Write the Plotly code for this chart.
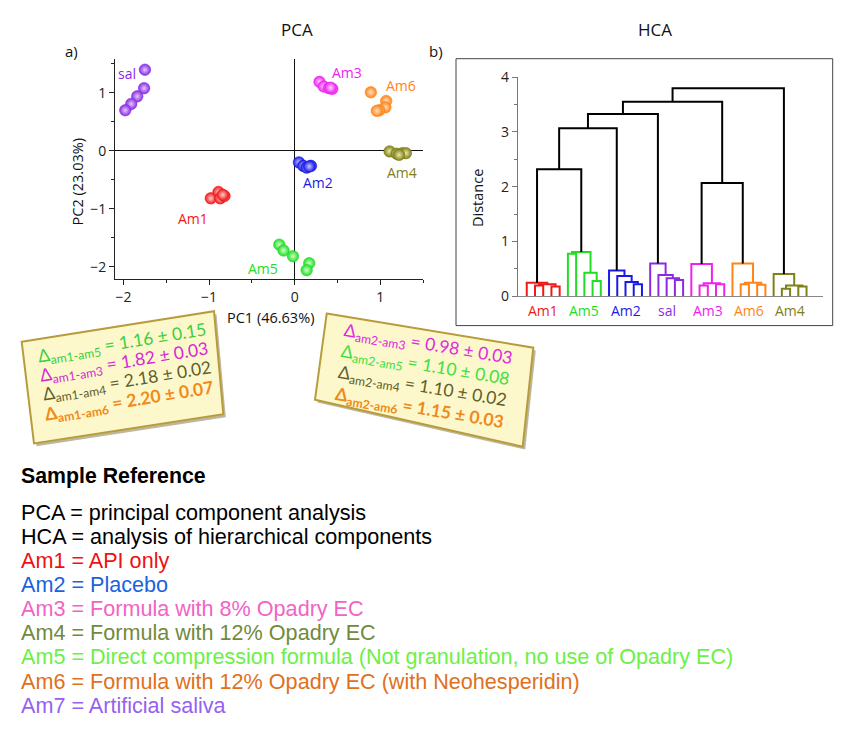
import plotly.graph_objects as go

W, H = 846, 732

# ---------------- PCA data (PC1, PC2 scores) ----------------
pca_groups = ["sal", "Am3", "Am6", "Am4", "Am2", "Am1", "Am5"]
sal_pc1 = [-1.75, -1.76, -1.84, -1.91, -1.98]
sal_pc2 = [1.40, 1.08, 0.94, 0.81, 0.70]
am3_pc1 = [0.29, 0.34, 0.40, 0.44, 0.42]
am3_pc2 = [1.19, 1.11, 1.08, 1.07, 1.09]
am6_pc1 = [0.89, 1.07, 1.06, 0.99, 0.96]
am6_pc2 = [1.01, 0.86, 0.75, 0.70, 0.69]
am4_pc1 = [1.11, 1.19, 1.26, 1.30, 1.22]
am4_pc2 = [-0.01, -0.05, -0.04, -0.04, -0.07]
am2_pc1 = [0.05, 0.10, 0.14, 0.19, 0.17]
am2_pc2 = [-0.20, -0.26, -0.29, -0.26, -0.27]
am1_pc1 = [-0.98, -0.89, -0.87, -0.82, -0.84]
am1_pc2 = [-0.82, -0.71, -0.82, -0.78, -0.76]
am5_pc1 = [-0.18, -0.13, -0.02, 0.17, 0.14]
am5_pc2 = [-1.62, -1.72, -1.82, -1.94, -2.06]
pca_label_x = [-1.96, 0.61, 1.24, 1.26, 0.27, -1.19, -0.37]
pca_label_y = [1.33, 1.35, 1.12, -0.37, -0.55, -1.16, -2.03]

# ---------------- HCA data ----------------
hca_order = ["Am1", "Am5", "Am2", "sal", "Am3", "Am6", "Am4"]
leaves_per_group = 5
merge_left = [1, 3, 35, 0, 8, 7, 5, 41, 13, 12, 11, 10, 18, 17, 16, 15,
              21, 23, 51, 20, 26, 28, 55, 25, 31, 33, 59, 30,
              38, 63, 64, 54, 65, 67]
merge_right = [2, 4, 36, 37, 9, 39, 6, 40, 14, 43, 44, 45, 19, 47, 48, 49,
               22, 24, 52, 53, 27, 29, 56, 57, 32, 34, 60, 61,
               42, 46, 50, 58, 66, 62]
merge_height = [0.20, 0.18, 0.22, 0.25, 0.28, 0.43, 0.78, 0.81,
                0.22, 0.26, 0.37, 0.47, 0.30, 0.33, 0.39, 0.60,
                0.20, 0.22, 0.24, 0.59, 0.22, 0.21, 0.25, 0.60,
                0.14, 0.18, 0.20, 0.41,
                2.32, 3.07, 3.33, 2.07, 3.55, 3.80]

# ---------------- Box texts ----------------
box1_lines = ["Δ<sub>am1-am5</sub> = 1.16 ± 0.15",
              "Δ<sub>am1-am3</sub> = 1.82 ± 0.03",
              "Δ<sub>am1-am4</sub> = 2.18 ± 0.02",
              "<b>Δ<sub>am1-am6</sub> = 2.20 ± 0.07</b>"]
box2_lines = ["Δ<sub>am2-am3</sub> = 0.98 ± 0.03",
              "Δ<sub>am2-am5</sub> = 1.10 ± 0.08",
              "Δ<sub>am2-am4</sub> = 1.10 ± 0.02",
              "<b>Δ<sub>am2-am6</sub> = 1.15 ± 0.03</b>"]
box1_colors = ["#3ccf3c", "#d42ad4", "#5f5f2a", "#f08a1a"]
box2_colors = ["#e02ae0", "#3ee03e", "#5f5f2a", "#f08a1a"]

ref_title = "Sample Reference"
ref_lines = ["PCA = principal component analysis",
             "HCA = analysis of hierarchical components",
             "Am1 = API only",
             "Am2 = Placebo",
             "Am3 = Formula with 8% Opadry EC",
             "Am4 = Formula with 12% Opadry EC",
             "Am5 = Direct compression formula (Not granulation, no use of Opadry EC)",
             "Am6 = Formula with 12% Opadry EC (with Neohesperidin)",
             "Am7 = Artificial saliva"]
ref_colors = ["#000000", "#000000", "#ee1111", "#1a62e0", "#f064c4",
              "#718a3c", "#6cf046", "#e0701c", "#9462f0"]

# ---------------- styles ----------------
group_color = {"sal": "#8a2be2", "Am3": "#ee22ee", "Am6": "#ff8418", "Am4": "#808018",
               "Am2": "#1a1ae8", "Am1": "#f01818", "Am5": "#22dd22"}
group_light = {"sal": "#e0c8ff", "Am3": "#ffd0ff", "Am6": "#ffe0c0", "Am4": "#e8e8b0",
               "Am2": "#c8c8ff", "Am1": "#ffcccc", "Am5": "#ccffcc"}
FONT = "Open Sans"


def px(x):
    return x / W


def py(y):
    return 1 - y / H


fig = go.Figure()

# PCA scatter
pca_x = [sal_pc1, am3_pc1, am6_pc1, am4_pc1, am2_pc1, am1_pc1, am5_pc1]
pca_y = [sal_pc2, am3_pc2, am6_pc2, am4_pc2, am2_pc2, am1_pc2, am5_pc2]
for g, xs, ys in zip(pca_groups, pca_x, pca_y):
    fig.add_trace(go.Scatter(
        x=xs, y=ys, mode="markers", xaxis="x", yaxis="y", name=g,
        marker=dict(size=11.5, color=group_color[g],
                    gradient=dict(type="radial", color=group_light[g]),
                    line=dict(width=0.6, color=group_color[g])),
        hoverinfo="skip"))

# HCA dendrogram
n_leaves = len(hca_order) * leaves_per_group
leaf_group = [g for g in hca_order for _ in range(leaves_per_group)]
node_x = list(range(n_leaves))
node_h = [0.0] * n_leaves
node_grp = list(leaf_group)
seg = {}
for a, b, h in zip(merge_left, merge_right, merge_height):
    xa, xb = node_x[a], node_x[b]
    g = node_grp[a] if node_grp[a] == node_grp[b] else None
    col = group_color[g] if g else "#000000"
    s = seg.setdefault(col, ([], []))
    s[0].extend([xa, xa, xb, xb, None])
    s[1].extend([node_h[a], h, h, node_h[b], None])
    node_x.append((xa + xb) / 2)
    node_h.append(h)
    node_grp.append(g)
for col, (xs, ys) in seg.items():
    fig.add_trace(go.Scatter(x=xs, y=ys, mode="lines", xaxis="x2", yaxis="y2",
                             line=dict(color=col, width=2), hoverinfo="skip"))

axis_common = dict(showgrid=False, showline=True, ticks="outside", ticklen=5,
                   tickwidth=1, tickfont=dict(family=FONT, size=14, color="#222"))

fig.update_layout(
    width=W, height=H, margin=dict(l=0, r=0, t=0, b=0),
    paper_bgcolor="white", plot_bgcolor="rgba(0,0,0,0)", showlegend=False,
    font=dict(family=FONT),
    xaxis=dict(domain=[px(115), px(423)], range=[-2.1, 1.5], tickvals=[-2, -1, 0, 1],
               zeroline=True, zerolinecolor="#111", zerolinewidth=1,
               linecolor="#222", tickcolor="#222",
               minor=dict(ticks="outside", ticklen=3, dtick=0.5, tickcolor="#222"),
               anchor="y", **axis_common),
    yaxis=dict(domain=[py(276), py(50)], range=[-2.21, 1.59], tickvals=[-2, -1, 0, 1],
               zeroline=True, zerolinecolor="#111", zerolinewidth=1,
               linecolor="#222", tickcolor="#222",
               minor=dict(ticks="outside", ticklen=3, dtick=0.5, tickcolor="#222"),
               anchor="x", **axis_common),
    xaxis2=dict(domain=[px(517.7), px(823)], range=[-1.1, 36], showticklabels=False,
                showgrid=False, showline=True, linecolor="#888", ticks="",
                zeroline=False, anchor="y2"),
    yaxis2=dict(domain=[py(294), py(69)], range=[0, 4], tickvals=[0, 1, 2, 3, 4],
                zeroline=False, linecolor="#777", tickcolor="#777",
                minor=dict(ticks="outside", ticklen=3, dtick=0.5, tickcolor="#777"),
                anchor="x2", **axis_common),
)

shapes = []
# HCA frame
shapes.append(dict(type="rect", xref="paper", yref="paper", x0=px(456), x1=px(832.7),
                   y0=py(324), y1=py(50), line=dict(color="#444", width=1)))


def poly(pts, dx=0, dy=0):
    return "M " + " L ".join(f"{px(x + dx):.5f},{py(y + dy):.5f}" for x, y in pts) + " Z"


box1 = [(21.7, 340.7), (214, 309.3), (223.3, 415), (34, 445)]
box2 = [(326.7, 311.7), (533.3, 346.7), (522.7, 448.3), (315, 400)]
for b in (box1, box2):
    shapes.append(dict(type="path", xref="paper", yref="paper", path=poly(b, 2.5, 3),
                       fillcolor="rgba(110,95,40,0.45)", line=dict(width=0)))
    shapes.append(dict(type="path", xref="paper", yref="paper", path=poly(b),
                       fillcolor="#fcf8cc", line=dict(color="#b89c3c", width=2)))
fig.update_layout(shapes=shapes)

ann = []


def text(x, y, s, size, color="#111", angle=0, xanchor="center", family=FONT, xref="paper", yref="paper"):
    ann.append(dict(x=x, y=y, xref=xref, yref=yref, text=s, showarrow=False,
                    xanchor=xanchor, yanchor="middle", textangle=angle,
                    font=dict(family=family, size=size, color=color)))


# titles
text(px(297), py(20), "PCA", 17)
text(px(655), py(20), "HCA", 17)
text(px(71), py(42), "a)", 15)
text(px(436), py(42), "b)", 15)
text(px(270), py(316), "PC1 (46.63%)", 14.5)
text(px(77), py(177), "PC2 (23.03%)", 14.5, angle=-90)
text(px(478), py(193), "Distance", 14.5, angle=-90)

# PCA labels
for g, lx, ly in zip(pca_groups, pca_label_x, pca_label_y):
    text(lx, ly, g, 14, group_color[g], xref="x", yref="y")

# HCA group labels
for i, g in enumerate(hca_order):
    cx = sum(range(i * leaves_per_group, (i + 1) * leaves_per_group)) / leaves_per_group
    text(cx, py(308), g, 14, group_color[g], xref="x2")

# box texts
box1_centers = [(121.7, 342.7), (124, 362.7), (126.7, 382), (129, 402.5)]
box2_centers = [(427.5, 343.5), (425, 365.5), (421.5, 387.5), (419, 410)]
for s, c, (cx, cy) in zip(box1_lines, box1_colors, box1_centers):
    text(px(cx), py(cy), s, 17.5, c, angle=-9.3, family="Lato")
for s, c, (cx, cy) in zip(box2_lines, box2_colors, box2_centers):
    text(px(cx), py(cy), s, 17.5, c, angle=9.6, family="Lato")

# reference text
text(px(19), py(478), "<b>" + ref_title + "</b>", 21.3, "#000", xanchor="left",
     family="Liberation Sans")
ys = [516, 540.5, 565, 589.8, 614.5, 639.2, 664, 689, 714.5]
for s, c, y in zip(ref_lines, ref_colors, ys):
    text(px(19), py(y), s, 21.6, c, xanchor="left", family="Liberation Sans")

fig.update_layout(annotations=ann)
fig.write_html("out.html", config={"displayModeBar": False},
               post_script="document.body.style.margin='0px';"
                           "document.body.style.overflow='hidden';")
